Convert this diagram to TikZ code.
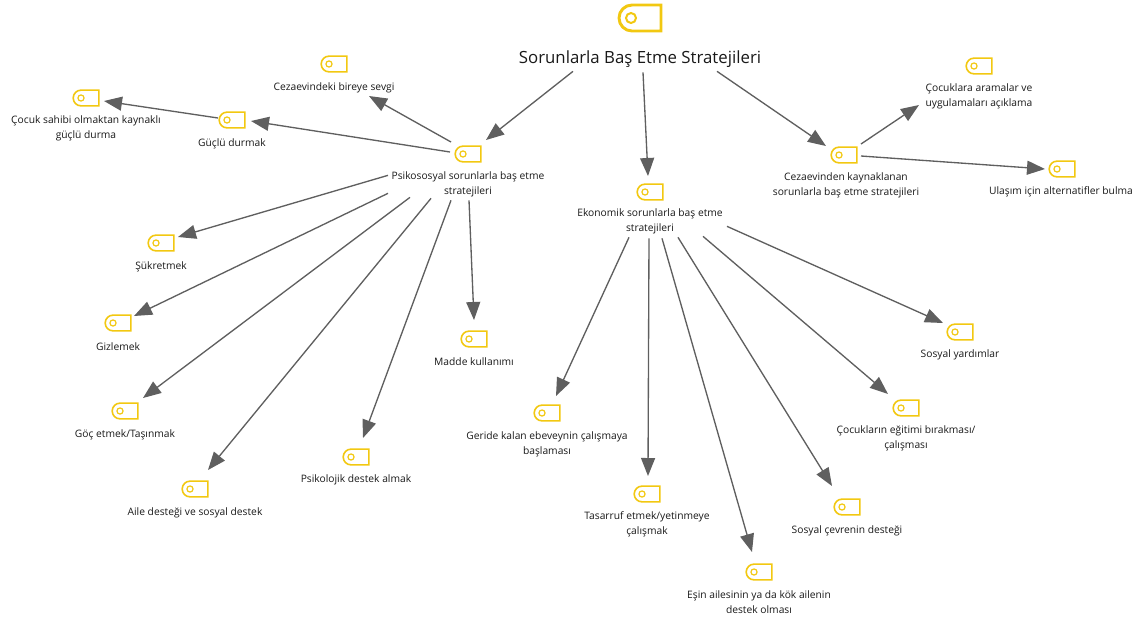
\documentclass[tikz,border=0pt]{standalone}
\usepackage{fontspec}
\setmainfont{Open Sans}
\usetikzlibrary{calc,arrows.meta,shapes.misc}
\definecolor{icony}{HTML}{F2C811}
\definecolor{linkg}{HTML}{5F5F5F}
\tikzset{
  x=0.75pt,y=-0.75pt,
  icon/.style={rounded rectangle,rounded rectangle east arc=none,draw=icony,line width=1.2pt,
    minimum width=19.2pt,minimum height=11.8pt,inner sep=0pt,
    append after command={(\tikzlastnode.center)++(-5,0) node[circle,draw=icony,line width=0.9pt,minimum size=4.6pt,inner sep=0pt]{}}},
  bigicon/.style={rounded rectangle,rounded rectangle east arc=none,draw=icony,line width=2.2pt,
    minimum width=31.5pt,minimum height=19.5pt,inner sep=0pt,
    append after command={(\tikzlastnode.center)++(-9,0) node[circle,draw=icony,line width=1.5pt,minimum size=7.5pt,inner sep=0pt]{}}},
  lbl/.style={align=center,inner sep=0pt,yshift=-1pt,font=\fontsize{7.7pt}{10.9pt}\selectfont,text=black!90},
  conn/.style={draw=linkg,line width=1.0pt,-{Triangle[length=13.5pt,width=10.5pt]}},
}
\begin{document}
\begin{tikzpicture}
\useasboundingbox (0,0) rectangle (1147,619);
\node[bigicon] (root) at (640,18) {};
\node[inner sep=0pt,yshift=-1pt,font=\fontsize{12.6pt}{16pt}\selectfont,text=black!90] (rootT) at (640,58) {Sorunlarla Baş Etme Stratejileri};
\node[icon] (psi) at (468,154) {};
\node[lbl] (psiT) at (468,183) {Psikososyal sorunlarla baş etme\\stratejileri};
\node[icon] (eko) at (650,192) {};
\node[lbl] (ekoT) at (650,220) {Ekonomik sorunlarla baş etme\\stratejileri};
\node[icon] (cez) at (844,155) {};
\node[lbl] (cezT) at (846,184) {Cezaevinden kaynaklanan\\sorunlarla baş etme stratejileri};
\node[icon] (coc) at (979,66) {};
\node[lbl] (cocT) at (979,95) {Çocuklara aramalar ve\\uygulamaları açıklama};
\node[icon] (ula) at (1062,169) {};
\node[lbl] (ulaT) at (1061,190) {Ulaşım için alternatifler bulma};
\node[icon] (sev) at (334,64) {};
\node[lbl] (sevT) at (334,86) {Cezaevindeki bireye sevgi};
\node[icon] (guc) at (232,120) {};
\node[lbl] (gucT) at (232,142) {Güçlü durmak};
\node[icon] (cgd) at (86,98) {};
\node[lbl] (cgdT) at (86,127) {Çocuk sahibi olmaktan kaynaklı\\güçlü durma};
\node[icon] (suk) at (161,243) {};
\node[lbl] (sukT) at (161,265) {Şükretmek};
\node[icon] (giz) at (118,323) {};
\node[lbl] (gizT) at (118,345) {Gizlemek};
\node[icon] (goc) at (125,411) {};
\node[lbl] (gocT) at (125,433) {Göç etmek/Taşınmak};
\node[icon] (aile) at (195,489) {};
\node[lbl] (aileT) at (195,511) {Aile desteği ve sosyal destek};
\node[icon] (psk) at (356,457) {};
\node[lbl] (pskT) at (356,478) {Psikolojik destek almak};
\node[icon] (mad) at (474,339) {};
\node[lbl] (madT) at (474,360) {Madde kullanımı};
\node[icon] (ger) at (547,413) {};
\node[lbl] (gerT) at (547,443) {Geride kalan ebeveynin çalışmaya\\başlaması};
\node[icon] (tas) at (647,494) {};
\node[lbl] (tasT) at (647,523) {Tasarruf etmek/yetinmeye\\çalışmak};
\node[icon] (esi) at (759,572) {};
\node[lbl] (esiT) at (759,601) {Eşin ailesinin ya da kök ailenin\\destek olması};
\node[icon] (sce) at (847,507) {};
\node[lbl] (sceT) at (847,529) {Sosyal çevrenin desteği};
\node[icon] (egi) at (906,408) {};
\node[lbl] (egiT) at (906,437) {Çocukların eğitimi bırakması/\\çalışması};
\node[icon] (syr) at (960,332) {};
\node[lbl] (syrT) at (960,353) {Sosyal yardımlar};

\draw[conn] ($(rootT)+(-67,12)$) -- ($(psi)+(18,-14)$);
\draw[conn] ($(rootT)+(3,13)$) -- ($(eko)+(-2,-16)$);
\draw[conn] ($(rootT)+(77,12)$) -- ($(cez)+(-18,-9)$);
\draw[conn] ($(cez)+(17,-11)$) -- ($(coc)+(-60,39)$);
\draw[conn] ($(cez)+(17,1)$) -- ($(ula)+(-17,0)$);
\draw[conn] ($(psi)+(-17,-12)$) -- ($(sev)+(35,32)$);
\draw[conn] ($(psi)+(-18,-2)$) -- ($(guc)+(19,1)$);
\draw[conn] ($(guc)+(-14,-2)$) -- ($(cgd)+(18,3)$);
\draw[conn] ($(psiT)+(-80,-9)$) -- ($(suk)+(17,-6)$);
\draw[conn] ($(psiT)+(-80,9)$) -- ($(giz)+(16,-7)$);
\draw[conn] ($(psiT)+(-58,13)$) -- ($(goc)+(18,-13)$);
\draw[conn] ($(psiT)+(-37,14)$) -- ($(aile)+(13,-19)$);
\draw[conn] ($(psiT)+(-17,16)$) -- ($(psk)+(7,-19)$);
\draw[conn] ($(psiT)+(1,16)$) -- ($(mad)+(0,-19)$);
\draw[conn] ($(ekoT)+(-21,16)$) -- ($(ger)+(9,-17)$);
\draw[conn] ($(ekoT)+(-1,17)$) -- ($(tas)+(1,-18)$);
\draw[conn] ($(ekoT)+(12,17)$) -- ($(esi)+(-7,-20)$);
\draw[conn] ($(ekoT)+(28,16)$) -- ($(sce)+(-15,-21)$);
\draw[conn] ($(ekoT)+(53,15)$) -- ($(egi)+(-18,-14)$);
\draw[conn] ($(ekoT)+(77,5)$) -- ($(syr)+(-17,-9)$);
\end{tikzpicture}
\end{document}
